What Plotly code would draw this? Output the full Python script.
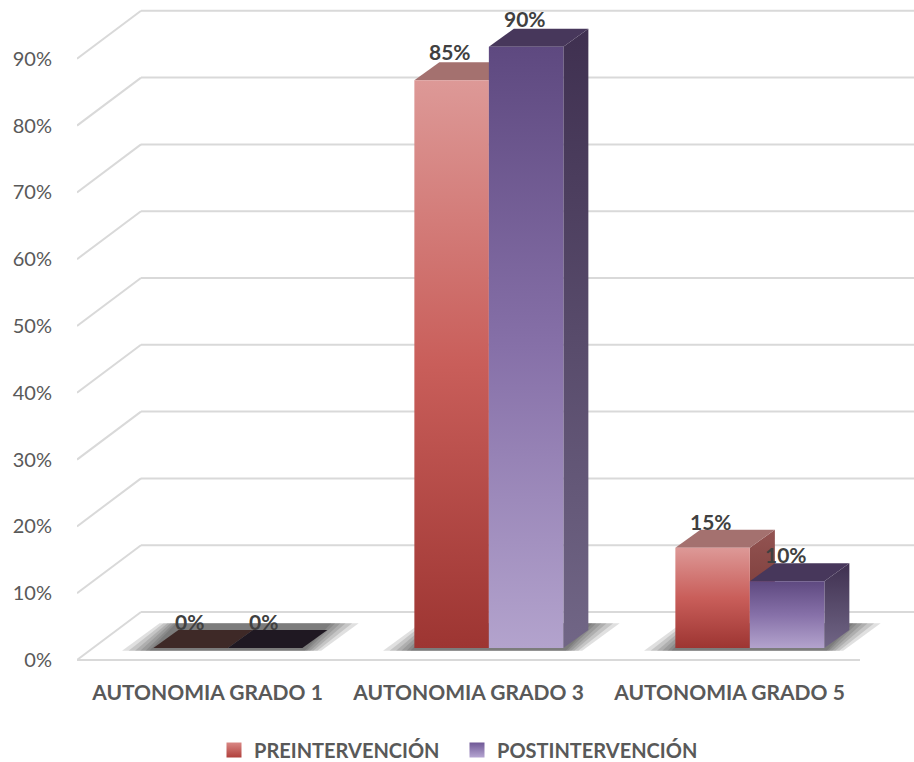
import plotly.graph_objects as go

# ---------------- data ----------------
categories = ["AUTONOMIA GRADO 1", "AUTONOMIA GRADO 3", "AUTONOMIA GRADO 5"]
series_names = ["PREINTERVENCIÓN", "POSTINTERVENCIÓN"]
pre_values = [0, 85, 15]
post_values = [0, 90, 10]
tick_values = [0, 10, 20, 30, 40, 50, 60, 70, 80, 90]
tick_labels = ["0%", "10%", "20%", "30%", "40%", "50%", "60%", "70%", "80%", "90%"]

# ---------------- geometry (in axis units) ----------------
W, H = 914, 762
ML, MB = 77, 90
PX_X = 261.0          # pixels per category unit
PX_Y = 6.68           # pixels per percent
DX, DY = 64 / PX_X, 48 / PX_Y          # depth of the floor / walls
BAR_W = 74.5 / PX_X
BAR_DX, BAR_DY = 25 / PX_X, 18 / PX_Y  # depth of bars
BAR_OX, BAR_OY = 0.078, 1.8            # bar front offset inside the floor
X0 = -0.5
X_MAX = X0 + (W - ML) / PX_X
Y_MIN = -(H - MB - 660) / PX_Y
Y_MAX = 660 / PX_Y

FONT = "Lato"
TXT = "#595959"
GRID = "#d9d9d9"

styles = [
    dict(front=[[0, "#9d3532"], [0.5, "#c95e5a"], [1, "#dd9997"]],
         side=[[0, "#6d2c2a"], [1, "#935452"]],
         top="#a4716f", zero="#3e2927",
         legend_top="#d98784", legend_bottom="#b0403c"),
    dict(front=[[0, "#b3a3cd"], [0.5, "#8670a8"], [1, "#5e4980"]],
         side=[[0, "#716686"], [1, "#3f3050"]],
         top="#47375b", zero="#1f1822",
         legend_top="#6f5896", legend_bottom="#b6a6d2"),
]

fig = go.Figure()
shapes = []

# back wall / floor gridlines
for v in tick_values:
    shapes.append(dict(type="line", xref="x", yref="y", x0=X0, y0=v, x1=X0 + DX, y1=v + DY,
                       line=dict(color=GRID, width=2), layer="below"))
    shapes.append(dict(type="line", xref="x", yref="y", x0=X0 + DX, y0=v + DY, x1=X_MAX, y1=v + DY,
                       line=dict(color=GRID, width=2), layer="below"))
shapes.append(dict(type="line", xref="x", yref="y", x0=X0, y0=0, x1=X0 + len(categories), y1=0,
                   line=dict(color=GRID, width=2), layer="below"))


def poly(xs, ys, **kw):
    fig.add_trace(go.Scatter(x=xs + [xs[0]], y=ys + [ys[0]], mode="lines", fill="toself",
                             line=dict(width=0), hoverinfo="skip", showlegend=False, **kw))


# shadows (soft, layered)
for i in range(len(categories)):
    xa = i + BAR_OX - BAR_W
    xb = i + BAR_OX + BAR_W + BAR_DX
    for e in [0.12, 0.095, 0.07, 0.05, 0.03, 0.015]:
        ey = 1.0
        poly([xa - e, xb - BAR_DX + e * 0.6, xb + e, xa + BAR_DX - e * 0.6],
             [BAR_OY - 0.4, BAR_OY - 0.4, BAR_OY + BAR_DY + ey, BAR_OY + BAR_DY + ey],
             fillcolor="rgba(50,50,50,0.15)")

annotations = []
for i in range(len(categories)):
    for s, vals in enumerate([pre_values, post_values]):
        v = vals[i]
        st = styles[s]
        x0 = i + BAR_OX + (s - 1) * BAR_W
        x1 = x0 + BAR_W
        yb = BAR_OY
        yt = BAR_OY + v
        if v > 0:
            # side face
            poly([x1, x1 + BAR_DX, x1 + BAR_DX, x1], [yb, yb + BAR_DY, yt + BAR_DY, yt],
                 fillgradient=dict(type="vertical", colorscale=st["side"]))
        # top face
        poly([x0, x1, x1 + BAR_DX, x0 + BAR_DX], [yt, yt, yt + BAR_DY, yt + BAR_DY],
             fillcolor=st["top"] if v > 0 else st["zero"])
        if v > 0:
            # front face
            poly([x0, x1, x1, x0], [yb, yb, yt, yt],
                 fillgradient=dict(type="vertical", colorscale=st["front"]))
        annotations.append(dict(x=(x0 + x1) / 2 - 0.006, y=yt + 3.4, xref="x", yref="y",
                                yshift=4 if v < 50 else 6,
                                text=f"{v}%", showarrow=False, yanchor="middle",
                                font=dict(family=FONT, size=21, color="#404040", weight="bold")))

# legend entries (one legend box per series, placed side by side)
legend_ids = ["legend", "legend2"]
for s, name in enumerate(series_names):
    st = styles[s]
    fig.add_trace(go.Scatter(x=[None], y=[None], mode="markers", name=name, legend=legend_ids[s],
                             marker=dict(symbol="square", size=15, color=st["legend_top"],
                                         gradient=dict(type="vertical", color=st["legend_bottom"]))))

PLOT_W = W - ML
PLOT_H = H - MB
leg_y = -(750 - PLOT_H) / PLOT_H
leg_common = dict(orientation="h", xanchor="left", y=leg_y, yanchor="middle",
                  font=dict(family=FONT, size=20, color=TXT, weight="bold"),
                  itemsizing="trace", itemwidth=30, bgcolor="rgba(0,0,0,0)")

fig.update_layout(
    width=W, height=H,
    margin=dict(l=ML, r=0, t=0, b=MB, autoexpand=False),
    paper_bgcolor="white", plot_bgcolor="white",
    shapes=shapes, annotations=annotations,
    showlegend=True,
    legend=dict(x=(214 - ML) / PLOT_W, **leg_common),
    legend2=dict(x=(457 - ML) / PLOT_W, **leg_common),
    xaxis=dict(range=[X0, X_MAX], tickvals=list(range(len(categories))), ticktext=categories,
               showgrid=False, zeroline=False, showline=False, ticks="outside", ticklen=2,
               tickcolor="rgba(0,0,0,0)", automargin=False,
               tickfont=dict(family=FONT, size=21, color=TXT, weight="bold")),
    yaxis=dict(range=[Y_MIN, Y_MAX], tickvals=tick_values, ticktext=tick_labels,
               showgrid=False, zeroline=False, showline=False, ticks="outside", ticklen=20,
               tickcolor="rgba(0,0,0,0)", automargin=False,
               tickfont=dict(family=FONT, size=20, color=TXT)),
)

fig.write_html("out.html", config={"displayModeBar": False},
               post_script="document.body.style.margin='0';document.body.style.overflow='hidden';")
